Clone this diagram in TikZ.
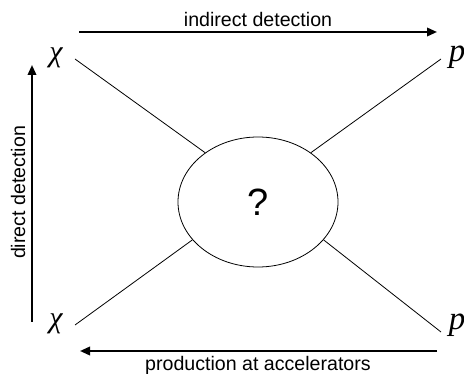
\documentclass[tikz,border=0pt]{standalone}
\usepackage{fontspec}
\setmainfont{Liberation Sans}
\newfontfamily\symfont{Liberation Serif}
\usetikzlibrary{arrows.meta,shapes.geometric}
\tikzset{
  lbl/.style={font=\fontsize{19.6}{23}\selectfont, inner sep=0pt},
  sym/.style={font=\symfont\itshape\fontsize{30}{30}\selectfont, inner sep=0pt},
  bigarrow/.style={line width=2pt, -{Triangle[length=10pt,width=8.5pt]}},
  leg/.style={line width=0.8pt},
}
\begin{document}
\begin{tikzpicture}[x=1pt,y=-1pt]
\useasboundingbox (0,0) rectangle (464,374);
% blob
\node[ellipse, draw, line width=0.8pt, minimum width=160pt, minimum height=130pt, inner sep=0pt,
      font=\fontsize{38}{38}\selectfont] (q) at (258,202) {?};
% particle labels
\node[sym] (chiT) at (56,58) {χ};
\node[sym] (chiB) at (56,324) {χ};
\node[sym, font=\symfont\itshape\fontsize{33}{33}\selectfont] (pT) at (457,57) {p};
\node[sym, font=\symfont\itshape\fontsize{33}{33}\selectfont] (pB) at (457,325) {p};
% leg ends near labels
\coordinate (lTL) at (75,59);
\coordinate (lBL) at (75,325);
\coordinate (lTR) at (441,59);
\coordinate (lBR) at (441,332);
\draw[leg] (lTL) -- (q.137);
\draw[leg] (lTR) -- (q.43);
\draw[leg] (lBL) -- (q.210);
\draw[leg] (lBR) -- (q.-30);
% arrows
\coordinate (aTs) at (79,32);
\coordinate (aTe) at (437,32);
\coordinate (aBs) at (437,351);
\coordinate (aBe) at (80,351);
\coordinate (aLs) at (32,322);
\coordinate (aLe) at (32,65);
\draw[bigarrow] (aTs) -- (aTe);
\draw[bigarrow] (aBs) -- (aBe);
\draw[bigarrow] (aLs) -- (aLe);
% arrow labels
\node[lbl, anchor=base] (tInd) at (258,27) {indirect detection};
\node[lbl, anchor=base] (tProd) at (258,371) {production at accelerators};
\node[lbl, anchor=base, rotate=90] (tDir) at (25,192.5) {direct detection};
\end{tikzpicture}
\end{document}
